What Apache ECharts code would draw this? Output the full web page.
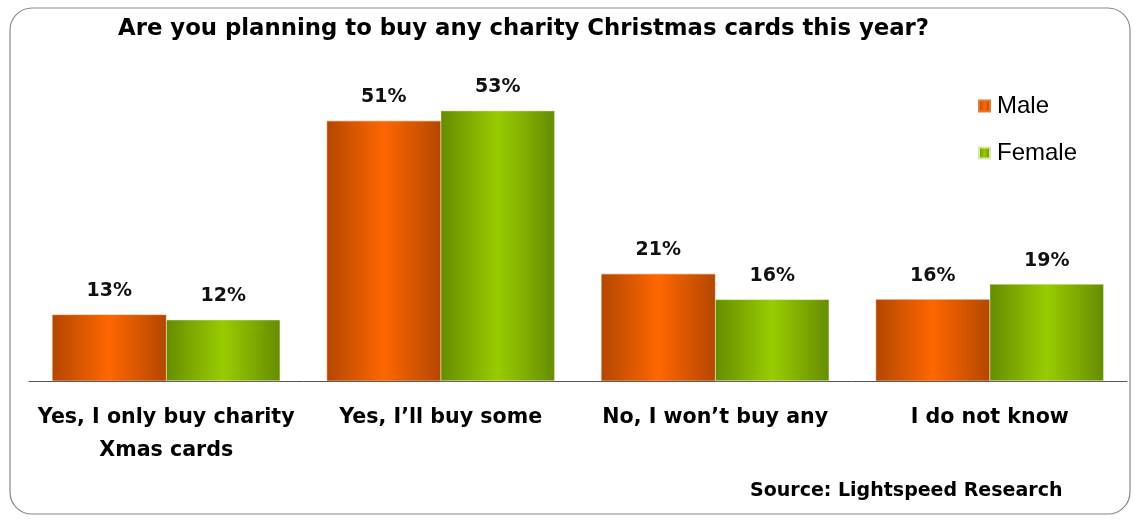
<!DOCTYPE html>
<html><head><meta charset="utf-8">
<script src="https://cdn.jsdelivr.net/npm/echarts@6/dist/echarts.min.js"></script>
<style>html,body{margin:0;padding:0;background:#fff}#c{width:1135px;height:520px}</style>
</head><body><div id="c"></div>
<script>
const categories = ["Yes, I only buy charity\nXmas cards", "Yes, I\u2019ll buy some", "No, I won\u2019t buy any", "I do not know"];
const male = [13, 51, 21, 16];
const female = [12, 53, 16, 19];
const seriesNames = ["Male", "Female"];

const font = "'DejaVu Sans', 'Liberation Sans', Arial, sans-serif";
const font2 = "'Liberation Sans', Arial, sans-serif";
function grad(edge, mid) {
  return new echarts.graphic.LinearGradient(0, 0, 1, 0, [
    {offset: 0, color: edge}, {offset: 0.5, color: mid}, {offset: 1, color: edge}
  ]);
}
const chart = echarts.init(document.getElementById('c'));
const labelCfg = {show: true, position: 'top', distance: 14, formatter: '{c}%',
  fontFamily: font, fontWeight: 'bold', fontSize: 19, color: '#111'};
chart.setOption({
  animation: false,
  backgroundColor: '#fff',
  title: {text: 'Are you planning to buy any charity Christmas cards this year?',
    left: 113, top: 13,
    textStyle: {fontFamily: font, fontWeight: 'bold', fontSize: 22.8, color: '#000'}},
  graphic: [
    {type: 'rect', shape: {x: 10, y: 8, width: 1120, height: 506, r: 22},
     style: {fill: 'none', stroke: '#888', lineWidth: 1.2}, z: -1},
    {type: 'text', left: 750, top: 482,
     style: {text: 'Source: Lightspeed Research', font: 'bold 19px ' + font, fill: '#000'}}
  ],
  legend: {orient: 'vertical', left: 973, top: 89, itemWidth: 11, itemHeight: 11, itemGap: 23,
    icon: 'rect', textStyle: {fontFamily: font2, fontSize: 24, color: '#000', padding: [0, 0, 0, 2]},
    data: seriesNames},
  grid: {left: 29, top: 75, width: 1098, height: 306},
  xAxis: {type: 'category', data: categories,
    axisLine: {lineStyle: {color: '#555', width: 1}}, axisTick: {show: false},
    axisLabel: {fontFamily: font, fontWeight: 'bold', fontSize: 20.6, color: '#000',
      margin: 20, lineHeight: 33, interval: 0}},
  yAxis: {type: 'value', min: 0, max: 60, show: false, splitLine: {show: false}},
  series: [
    {name: seriesNames[0], type: 'bar', data: male, barGap: '0%', barCategoryGap: '17%',
     itemStyle: {color: grad('#B34700', '#FF6600'), borderColor: '#E07A3A', borderWidth: 0.5},
     label: labelCfg},
    {name: seriesNames[1], type: 'bar', data: female,
     itemStyle: {color: grad('#668C00', '#99CC00'), borderColor: '#D8E6B0', borderWidth: 0.5},
     label: labelCfg}
  ]
});
</script></body></html>
